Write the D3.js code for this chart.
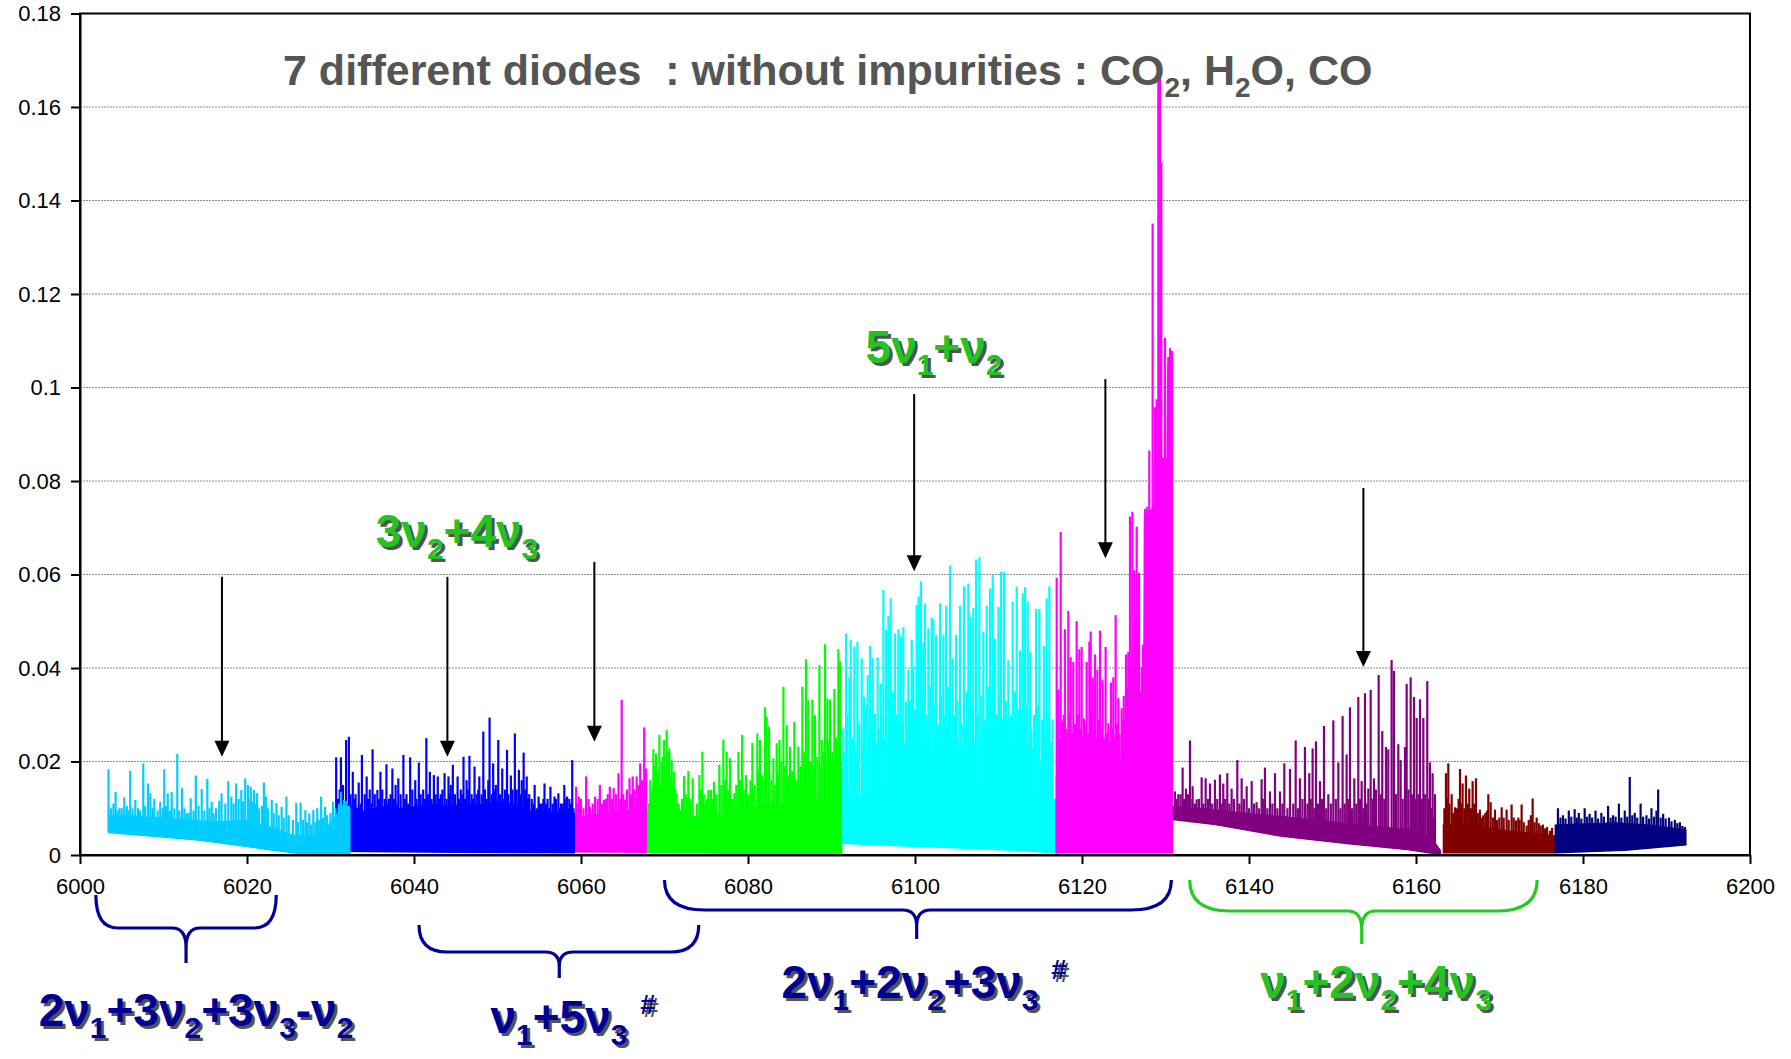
<!DOCTYPE html>
<html><head><meta charset="utf-8">
<script src="https://cdn.jsdelivr.net/npm/d3@7"></script>
<style>body{margin:0;background:#fff}svg{display:block}text{font-family:"Liberation Sans",Arial,sans-serif}</style>
</head><body>
<svg id="chart" width="1791" height="1059"></svg>
<script>
// ---------------- DATA ----------------
const xTicks = [6000,6020,6040,6060,6080,6100,6120,6140,6160,6180,6200];
const xTickLabels = ["6000","6020","6040","6060","6080","6100","6120","6140","6160","6180","6200"];
const yTicks = [0,0.02,0.04,0.06,0.08,0.1,0.12,0.14,0.16,0.18];
const yTickLabels = ["0","0.02","0.04","0.06","0.08","0.1","0.12","0.14","0.16","0.18"];

const segNames = ["diode1","diode2","diode3","diode4","diode5","diode6","diode7","diode8","diode9"];

// light blue diode
const seg1Lower = [[6003.4,0.0048],[6009.5,0.0039],[6014.2,0.0032],[6018.9,0.0021],[6022.7,0.0011],[6026.0,0.0004],[6028.4,0.0001],[6032.5,0.0001]];
const seg1Top = [[6003.4,0.0085],[6006,0.0085],[6010,0.0080],[6013,0.0076],[6016,0.0072],[6020,0.0075],[6023,0.0060],[6025,0.0046],[6027,0.0040],[6029,0.0050],[6030.5,0.0080],[6031.5,0.0110],[6032.4,0.0100]];
const seg1Peaks = [[6003.41,.0183],[6003.7,.010],[6004.0,.011],[6004.26,.0135],[6004.5,.0095],[6004.73,.0100],[6005.0,.010],[6005.30,.0123],[6005.6,.0105],[6005.8,.0095],[6006.01,.0180],[6006.3,.010],[6006.63,.0118],[6006.96,.0100],[6007.2,.0095],[6007.58,.0196],[6007.8,.0105],[6008.14,.0153],[6008.43,.0132],[6008.7,.010],[6008.90,.0120],[6009.3,.0095],[6009.61,.0114],[6009.9,.010],[6010.09,.0183],[6010.3,.0105],[6010.51,.0132],[6010.75,.0095],[6010.98,.0135],[6011.3,.010],[6011.65,.0216],[6011.9,.0095],[6012.22,.0143],[6012.5,.010],[6012.78,.0089],[6013.0,.009],[6013.26,.0121],[6013.6,.0095],[6013.87,.0170],[6014.2,.0105],[6014.58,.0141],[6014.9,.0095],[6015.25,.0163],[6015.5,.010],[6015.77,.0114],[6016.0,.009],[6016.3,.010],[6016.67,.0116],[6016.95,.0132],[6017.4,.011],[6017.76,.0158],[6018.13,.0125],[6018.4,.011],[6018.70,.0153],[6019.0,.012],[6019.32,.0139],[6019.55,.0115],[6019.79,.0164],[6020.12,.0150],[6020.3,.012],[6020.45,.0146],[6020.65,.0115],[6020.83,.0139],[6021.0,.011],[6021.21,.0132],[6021.45,.010],[6021.8,.0105],[6022.02,.0155],[6022.25,.0125],[6022.5,.010],[6022.96,.0118],[6023.2,.009],[6023.53,.0111],[6023.8,.0085],[6024.15,.0103],[6024.4,.008],[6024.72,.0125],[6025.0,.0085],[6025.5,.0075],[6025.90,.0111],[6026.1,.007],[6026.42,.0112],[6026.7,.0075],[6026.99,.0096],[6027.2,.007],[6027.46,.0089],[6027.7,.0065],[6027.94,.0096],[6028.2,.007],[6028.41,.0100],[6028.6,.0075],[6028.88,.0125],[6029.1,.008],[6029.36,.0103],[6029.6,.0085],[6030.0,.009],[6030.30,.0114],[6030.6,.010],[6031.0,.011],[6031.25,.0135],[6031.63,.0118],[6031.9,.0115],[6032.2,.0105]];

// blue diode
const seg2Lower = [[6030.7,0.0008],[6045,0.0006],[6059.3,0.0005]];
const seg2Top = [[6030.7,0.007],[6032,0.011],[6034,0.0095],[6036,0.0105],[6038,0.010],[6040,0.0105],[6042,0.011],[6044,0.0105],[6046,0.011],[6048,0.011],[6050,0.0115],[6052,0.011],[6054,0.0095],[6056,0.009],[6058,0.0095],[6059.3,0.009]];
const seg2Peaks = [[6030.68,.0209],[6030.9,.012],[6031.1,.014],[6031.25,.0209],[6031.5,.015],[6031.87,.0246],[6032.20,.0253],[6032.4,.013],[6032.67,.0178],[6032.9,.012],[6033.0,.013],[6033.38,.0155],[6033.6,.011],[6033.76,.0214],[6034.1,.013],[6034.33,.0168],[6034.5,.012],[6034.7,.014],[6034.9,.011],[6035.04,.0226],[6035.3,.013],[6035.61,.0139],[6035.8,.012],[6035.98,.0178],[6036.2,.014],[6036.5,.012],[6036.70,.0194],[6036.9,.011],[6037.0,.012],[6037.2,.013],[6037.41,.0185],[6037.6,.012],[6037.8,.015],[6038.0,.011],[6038.12,.0164],[6038.4,.013],[6038.73,.0214],[6038.9,.012],[6039.1,.013],[6039.3,.011],[6039.54,.0209],[6039.8,.014],[6040.15,.0160],[6040.3,.012],[6040.58,.0198],[6040.8,.013],[6041.1,.014],[6041.3,.012],[6041.48,.0250],[6041.7,.013],[6041.90,.0178],[6042.1,.012],[6042.38,.0171],[6042.6,.013],[6042.85,.0168],[6043.0,.012],[6043.2,.013],[6043.4,.014],[6043.66,.0175],[6043.9,.012],[6044.13,.0168],[6044.3,.013],[6044.4,.015],[6044.65,.0193],[6044.9,.013],[6045.22,.0168],[6045.4,.012],[6045.6,.014],[6045.8,.013],[6045.93,.0210],[6046.1,.012],[6046.3,.016],[6046.5,.014],[6046.64,.0212],[6046.9,.013],[6047.1,.012],[6047.25,.0189],[6047.5,.013],[6047.7,.014],[6047.82,.0168],[6048.1,.013],[6048.30,.0264],[6048.5,.014],[6048.7,.012],[6048.9,.016],[6049.05,.0294],[6049.3,.013],[6049.48,.0196],[6049.65,.014],[6049.8,.015],[6050.09,.0246],[6050.3,.013],[6050.57,.0185],[6050.75,.012],[6050.9,.014],[6051.14,.0225],[6051.3,.013],[6051.6,.017],[6051.8,.014],[6052.08,.0260],[6052.3,.014],[6052.56,.0182],[6052.7,.013],[6052.9,.016],[6053.13,.0219],[6053.3,.014],[6053.50,.0168],[6053.65,.012],[6053.8,.013],[6054.1,.012],[6054.3,.011],[6054.45,.0150],[6054.7,.010],[6054.92,.0125],[6055.1,.011],[6055.3,.011],[6055.5,.012],[6055.63,.0153],[6055.8,.011],[6056.0,.012],[6056.2,.010],[6056.34,.0146],[6056.6,.011],[6056.82,.0125],[6057.0,.012],[6057.29,.0132],[6057.45,.010],[6057.6,.011],[6057.8,.011],[6058.00,.0150],[6058.2,.012],[6058.33,.0125],[6058.45,.010],[6058.6,.012],[6058.8,.011],[6058.95,.0203],[6059.1,.010]];

// magenta diode (1)
const seg3Lower = [[6059.3,0.0007],[6068.0,0.0006]];
const seg3Top = [[6059.3,0.008],[6061,0.0085],[6063,0.009],[6065,0.0095],[6067,0.010],[6068,0.0095]];
const seg3Peaks = [[6059.42,.0146],[6059.6,.011],[6059.75,.0125],[6060.0,.012],[6060.3,.010],[6060.61,.0168],[6060.9,.012],[6061.08,.0103],[6061.4,.011],[6061.69,.0125],[6062.0,.012],[6062.26,.0150],[6062.5,.011],[6062.74,.0118],[6063.0,.012],[6063.2,.013],[6063.45,.0146],[6063.7,.012],[6063.92,.0143],[6064.2,.013],[6064.49,.0175],[6064.7,.012],[6064.87,.0332],[6065.05,.013],[6065.25,.0118],[6065.5,.014],[6065.81,.0164],[6066.0,.013],[6066.19,.0168],[6066.4,.014],[6066.67,.0168],[6066.9,.015],[6067.09,.0196],[6067.3,.016],[6067.57,.0273],[6067.7,.017],[6067.80,.0185]];

// green diode
const seg4Lower = [[6067.9,0.0006],[6080,0.0003],[6091.3,0.0004]];
const seg4Top = [[6067.9,0.009],[6068.5,0.014],[6070,0.015],[6071,0.013],[6072,0.009],[6074,0.008],[6076,0.0085],[6078,0.009],[6080,0.010],[6082,0.011],[6084,0.011],[6086,0.0115],[6088,0.012],[6090,0.0115],[6091.3,0.011]];
const seg4Peaks = [[6068.07,.0111],[6068.3,.016],[6068.67,.0226],[6068.85,.019],[6068.99,.0217],[6069.2,.018],[6069.39,.0257],[6069.66,.0200],[6069.8,.021],[6069.94,.0246],[6070.1,.019],[6070.26,.0267],[6070.4,.022],[6070.58,.0228],[6070.7,.017],[6070.86,.0203],[6071.0,.015],[6071.14,.0178],[6071.3,.014],[6071.46,.0132],[6071.7,.011],[6071.86,.0096],[6072.1,.012],[6072.34,.0169],[6072.6,.013],[6072.86,.0180],[6073.1,.012],[6073.38,.0164],[6073.66,.0083],[6073.9,.011],[6074.18,.0171],[6074.35,.014],[6074.53,.0221],[6074.7,.013],[6074.85,.0111],[6075.1,.012],[6075.25,.0139],[6075.4,.010],[6075.57,.0139],[6075.75,.012],[6075.93,.0157],[6076.2,.013],[6076.57,.0193],[6076.8,.015],[6077.05,.0247],[6077.25,.016],[6077.45,.0221],[6077.65,.014],[6077.85,.0207],[6078.1,.012],[6078.37,.0132],[6078.6,.015],[6078.85,.0221],[6079.05,.016],[6079.29,.0257],[6079.5,.014],[6079.76,.0171],[6080.0,.013],[6080.3,.016],[6080.52,.0240],[6080.8,.015],[6081.12,.0260],[6081.3,.018],[6081.44,.0246],[6081.7,.017],[6082.04,.0316],[6082.24,.0296],[6082.52,.0275],[6082.8,.016],[6083.04,.0207],[6083.2,.015],[6083.44,.0239],[6083.6,.017],[6083.76,.0246],[6084.0,.020],[6084.24,.0360],[6084.45,.019],[6084.64,.0278],[6084.85,.017],[6085.03,.0232],[6085.3,.018],[6085.55,.0285],[6085.8,.016],[6086.03,.0232],[6086.3,.019],[6086.51,.0360],[6086.75,.022],[6086.95,.0419],[6087.23,.0331],[6087.45,.020],[6087.71,.0332],[6087.9,.018],[6088.03,.0299],[6088.3,.021],[6088.55,.0406],[6088.7,.019],[6088.83,.0246],[6089.05,.022],[6089.23,.0451],[6089.35,.020],[6089.51,.0335],[6089.65,.024],[6089.83,.0332],[6090.1,.022],[6090.34,.0355],[6090.55,.025],[6090.82,.0440],[6091.02,.0414],[6091.15,.020]];

// cyan diode
const seg5Lower = [[6091.2,0.0025],[6098,0.0020],[6104,0.0016],[6110,0.0012],[6114,0.0008],[6117,0.0004]];
const seg5Top = [[6091.2,0.014],[6093,0.013],[6096,0.014],[6099,0.015],[6102,0.016],[6105,0.015],[6108,0.016],[6111,0.015],[6114,0.013],[6117,0.012]];
const seg5Peaks = [[6091.42,.0271],[6091.6,.022],[6091.74,.0474],[6091.9,.030],[6092.14,.0381],[6092.30,.0460],[6092.5,.025],[6092.74,.0446],[6092.9,.022],[6093.10,.0456],[6093.3,.028],[6093.62,.0421],[6093.8,.024],[6093.90,.0339],[6094.1,.032],[6094.33,.0385],[6094.45,.026],[6094.61,.0447],[6094.8,.022],[6094.93,.0421],[6095.0,.026],[6095.21,.0303],[6095.4,.024],[6095.53,.0423],[6095.7,.027],[6095.89,.0367],[6096.0,.030],[6096.21,.0567],[6096.4,.025],[6096.53,.0481],[6096.7,.022],[6096.81,.0511],[6096.95,.028],[6097.09,.0549],[6097.3,.035],[6097.45,.024],[6097.61,.0474],[6097.7,.026],[6097.85,.030],[6098.01,.0483],[6098.15,.025],[6098.33,.0468],[6098.45,.028],[6098.61,.0487],[6098.75,.024],[6098.93,.0328],[6099.05,.027],[6099.21,.0396],[6099.4,.033],[6099.61,.0461],[6099.7,.025],[6099.81,.0403],[6100.0,.031],[6100.1,.024],[6100.20,.0535],[6100.44,.0553],[6100.55,.026],[6100.72,.0585],[6100.8,.023],[6100.9,.035],[6101.00,.0453],[6101.1,.027],[6101.20,.0538],[6101.4,.030],[6101.5,.024],[6101.60,.0485],[6101.8,.036],[6101.9,.026],[6102.00,.0508],[6102.1,.022],[6102.20,.0503],[6102.35,.032],[6102.52,.0471],[6102.65,.025],[6102.8,.028],[6102.9,.023],[6103.00,.0538],[6103.1,.026],[6103.2,.034],[6103.3,.024],[6103.40,.0471],[6103.55,.030],[6103.72,.0533],[6103.85,.027],[6104.0,.036],[6104.1,.022],[6104.20,.0620],[6104.35,.025],[6104.52,.0421],[6104.7,.030],[6104.8,.026],[6104.91,.0471],[6105.1,.033],[6105.25,.024],[6105.39,.0533],[6105.5,.026],[6105.6,.028],[6105.75,.023],[6105.87,.0575],[6106.0,.027],[6106.2,.035],[6106.39,.0580],[6106.55,.025],[6106.67,.0510],[6106.85,.031],[6106.99,.0528],[6107.1,.024],[6107.31,.0632],[6107.4,.023],[6107.5,.030],[6107.71,.0637],[6107.85,.025],[6107.95,.034],[6108.1,.027],[6108.19,.0478],[6108.4,.029],[6108.5,.023],[6108.59,.0533],[6108.8,.036],[6108.9,.025],[6108.99,.0570],[6109.15,.032],[6109.31,.0599],[6109.45,.024],[6109.59,.0463],[6109.7,.026],[6109.8,.030],[6109.99,.0531],[6110.05,.023],[6110.15,.034],[6110.31,.0606],[6110.4,.025],[6110.5,.029],[6110.67,.0606],[6110.8,.024],[6110.9,.033],[6111.05,.026],[6111.18,.0417],[6111.3,.023],[6111.45,.030],[6111.6,.025],[6111.70,.0542],[6111.85,.022],[6111.95,.035],[6112.05,.024],[6112.18,.0574],[6112.3,.026],[6112.4,.031],[6112.5,.022],[6112.58,.0438],[6112.75,.028],[6112.90,.0560],[6113.05,.024],[6113.18,.0573],[6113.35,.032],[6113.50,.0542],[6113.65,.022],[6113.78,.0435],[6113.95,.027],[6114.1,.023],[6114.25,.030],[6114.4,.021],[6114.50,.0526],[6114.6,.024],[6114.7,.032],[6114.90,.0526],[6115.0,.020],[6115.2,.029],[6115.35,.022],[6115.45,.0447],[6115.6,.025],[6115.77,.0549],[6115.85,.020],[6115.95,.030],[6116.09,.0575],[6116.2,.019],[6116.3,.024],[6116.49,.0290]];

// magenta diode (2)
const seg6Lower = [[6116.85,0.0005],[6130.9,0.0005]];
const seg6Top = [[6116.85,0.017],[6119,0.019],[6121,0.020],[6123,0.019],[6124.6,0.020],[6124.8,0.029],[6127.3,0.029],[6127.4,0.072],[6128.7,0.075],[6129.0,0.085],[6130.1,0.085],[6130.2,0.105],[6130.86,0.105]];
const seg6Peaks = [[6116.97,.0593],[6117.17,.0353],[6117.3,.025],[6117.45,.0691],[6117.68,.0287],[6117.8,.030],[6117.96,.0483],[6118.1,.027],[6118.36,.0522],[6118.5,.030],[6118.64,.0423],[6118.8,.026],[6118.96,.0413],[6119.15,.028],[6119.36,.0500],[6119.5,.030],[6119.68,.0440],[6119.8,.027],[6119.96,.0445],[6120.1,.025],[6120.24,.0292],[6120.4,.028],[6120.56,.0413],[6120.7,.026],[6120.88,.0456],[6121.04,.0478],[6121.15,.030],[6121.28,.0380],[6121.4,.027],[6121.56,.0429],[6121.7,.025],[6121.84,.0396],[6122.0,.029],[6122.16,.0480],[6122.3,.027],[6122.47,.0374],[6122.65,.025],[6122.83,.0445],[6123.0,.026],[6123.15,.0282],[6123.3,.024],[6123.47,.0369],[6123.6,.027],[6123.75,.0380],[6123.9,.025],[6124.03,.0513],[6124.2,.028],[6124.35,.0336],[6124.5,.026],[6124.75,.0314],[6125.0,.034],[6125.27,.0429],[6125.4,.036],[6125.55,.0434],[6125.75,.0724],[6125.9,.040],[6126.03,.0734],[6126.15,.045],[6126.27,.0609],[6126.4,.050],[6126.55,.0702],[6126.7,.048],[6126.83,.0604],[6127.0,.035],[6127.15,.0402],[6127.3,.045],[6127.55,.0740],[6127.82,.0745],[6128.06,.0865],[6128.46,.1351],[6128.74,.0958],[6128.94,.0975],[6129.14,.1678],[6129.24,.1650],[6129.34,.1673],[6129.50,.1482],[6129.74,.0827],[6129.94,.1106],[6130.14,.0800],[6130.34,.1065],[6130.54,.1084],[6130.78,.1078]];

// purple diode
const seg7Lower = [[6130.85,0.0076],[6136,0.0065],[6144,0.0040],[6152,0.0024],[6159,0.0012],[6162.5,0.0002],[6163,0.0001]];
const seg7Top = [[6130.85,0.0105],[6135,0.0100],[6140,0.0090],[6145,0.0082],[6150,0.0072],[6155,0.0062],[6160,0.0055],[6162,0.0035],[6163,0.001]];
const seg7Peaks = [[6131.13,.0136],[6131.3,.012],[6131.53,.0130],[6131.8,.013],[6132.05,.0187],[6132.25,.012],[6132.45,.0142],[6132.7,.013],[6132.93,.0245],[6133.0,.012],[6133.25,.0147],[6133.5,.011],[6133.73,.0119],[6134.0,.012],[6134.33,.0166],[6134.55,.011],[6134.81,.0164],[6135.1,.012],[6135.33,.0153],[6135.6,.011],[6135.92,.0161],[6136.2,.012],[6136.52,.0172],[6136.7,.011],[6136.92,.0153],[6137.15,.012],[6137.40,.0175],[6137.65,.011],[6137.92,.0142],[6138.2,.012],[6138.60,.0203],[6138.85,.011],[6139.12,.0164],[6139.4,.012],[6139.72,.0147],[6140.0,.010],[6140.32,.0158],[6140.6,.011],[6140.91,.0113],[6141.2,.010],[6141.51,.0162],[6141.7,.012],[6141.91,.0187],[6142.2,.010],[6142.51,.0136],[6142.8,.011],[6143.11,.0175],[6143.4,.010],[6143.71,.0136],[6144.0,.011],[6144.23,.0196],[6144.6,.010],[6144.91,.0184],[6145.3,.011],[6145.59,.0245],[6145.85,.010],[6146.10,.0164],[6146.4,.012],[6146.70,.0231],[6147.0,.011],[6147.22,.0175],[6147.4,.012],[6147.62,.0228],[6147.85,.010],[6148.02,.0243],[6148.25,.011],[6148.50,.0158],[6148.75,.012],[6148.98,.0276],[6149.25,.010],[6149.50,.0130],[6149.8,.011],[6150.10,.0288],[6150.4,.012],[6150.70,.0198],[6150.95,.010],[6151.21,.0297],[6151.45,.011],[6151.69,.0215],[6151.9,.012],[6152.09,.0316],[6152.35,.010],[6152.61,.0164],[6152.85,.011],[6153.09,.0338],[6153.3,.012],[6153.49,.0158],[6153.7,.010],[6153.89,.0346],[6154.1,.011],[6154.29,.0142],[6154.57,.0353],[6154.8,.012],[6154.97,.0164],[6155.2,.014],[6155.53,.0385],[6155.75,.013],[6155.96,.0265],[6156.2,.012],[6156.40,.0231],[6156.68,.0226],[6157.08,.0417],[6157.36,.0394],[6157.6,.013],[6157.88,.0237],[6158.16,.0203],[6158.4,.012],[6158.68,.0231],[6158.88,.0366],[6159.1,.014],[6159.36,.0380],[6159.55,.013],[6159.76,.0338],[6159.95,.012],[6160.08,.0293],[6160.3,.013],[6160.48,.0333],[6160.7,.012],[6160.88,.0293],[6161.1,.013],[6161.35,.0372],[6161.5,.012],[6161.67,.0198],[6161.85,.010],[6161.99,.0175],[6162.1,.008],[6162.27,.0130]];

// dark red diode
const seg8Lower = [[6163.2,0.0005],[6176.7,0.0005]];
const seg8Top = [[6163.2,0.0065],[6166,0.0068],[6170,0.0055],[6174,0.0048],[6176.7,0.0042]];
const seg8Peaks = [[6163.4,.010],[6163.59,.0175],[6163.7,.012],[6163.87,.0196],[6164.0,.011],[6164.27,.0130],[6164.45,.009],[6164.67,.0102],[6164.9,.010],[6165.1,.012],[6165.27,.0184],[6165.4,.011],[6165.58,.0153],[6165.8,.010],[6165.98,.0170],[6166.2,.011],[6166.38,.0142],[6166.6,.010],[6166.78,.0158],[6166.95,.011],[6167.18,.0164],[6167.4,.009],[6167.66,.0097],[6167.9,.008],[6168.06,.0085],[6168.3,.009],[6168.5,.0095],[6168.66,.0130],[6168.94,.0113],[6169.2,.008],[6169.46,.0097],[6169.7,.0075],[6169.98,.0080],[6170.26,.0102],[6170.5,.008],[6170.85,.0097],[6171.1,.0075],[6171.45,.0108],[6171.7,.008],[6171.97,.0074],[6172.25,.0080],[6172.4,.0075],[6172.65,.0108],[6172.9,.007],[6173.25,.0063],[6173.5,.0075],[6173.75,.0085],[6173.97,.0121],[6174.2,.007],[6174.45,.0080],[6174.7,.0068],[6174.93,.0063],[6175.2,.0065],[6175.45,.0057],[6175.7,.006],[6176.05,.0052],[6176.3,.0058]];

// navy diode
const seg9Lower = [[6176.6,0.0005],[6185,0.0010],[6192.4,0.0022]];
const seg9Top = [[6176.6,0.0065],[6180,0.0068],[6184,0.0070],[6188,0.0065],[6192.4,0.0055]];
const seg9Peaks = [[6177.0,.0100],[6177.3,.0080],[6177.6,.0085],[6177.9,.0078],[6178.3,.0095],[6178.6,.0082],[6179.0,.0098],[6179.25,.0080],[6179.5,.0090],[6179.8,.0078],[6180.2,.0100],[6180.5,.0082],[6180.8,.0088],[6181.1,.0080],[6181.5,.0095],[6181.8,.0078],[6182.2,.0090],[6182.5,.0082],[6183.0,.0105],[6183.3,.0080],[6183.6,.0085],[6183.9,.0082],[6184.3,.0110],[6184.6,.0080],[6185.0,.0095],[6185.3,.0082],[6185.6,.0167],[6185.9,.0085],[6186.2,.0090],[6186.5,.0080],[6186.9,.0110],[6187.2,.0082],[6187.6,.0085],[6187.9,.0078],[6188.2,.0100],[6188.5,.0082],[6188.8,.0095],[6189.0,.0140],[6189.3,.0080],[6189.6,.0088],[6189.9,.0078],[6190.3,.0080],[6190.6,.0072],[6191.0,.0075],[6191.3,.0068],[6191.6,.0070],[6191.9,.0062],[6192.2,.0060]];

// annotations
const arrowX = [6017.0, 6044.0, 6061.6, 6099.9, 6122.8, 6153.7];
const arrowFrom = [0.0595, 0.0595, 0.0627, 0.0986, 0.1018, 0.0785];
const arrowTo = [0.0210, 0.0210, 0.0242, 0.0607, 0.0635, 0.0402];

const braceLeft = [6001.9, 6040.6, 6070.0, 6132.9];
const braceMid = [6012.7, 6057.4, 6100.2, 6153.5];
const braceRight = [6023.5, 6074.1, 6130.7, 6174.5];

const titleParts = [["7 different diodes  : without impurities : CO"],["2","sub"],[", H"],["2","sub"],["O, CO"]];
const bandLabels = [
  [["2ν"],["1","sub"],["+3ν"],["2","sub"],["+3ν"],["3","sub"],["-ν"],["2","sub"]],
  [["ν"],["1","sub"],["+5ν"],["3","sub"],[" "],["#","sup"]],
  [["2ν"],["1","sub"],["+2ν"],["2","sub"],["+3ν"],["3","sub"],[" "],["#","sup"]],
  [["ν"],["1","sub"],["+2ν"],["2","sub"],["+4ν"],["3","sub"]],
  [["3ν"],["2","sub"],["+4ν"],["3","sub"]],
  [["5ν"],["1","sub"],["+ν"],["2","sub"]]
];

// ---------------- DRAWING ----------------
const svg = d3.select("#chart");
const L = 80, R = 1750, T = 13.5, B = 855;
const x = d3.scaleLinear().domain([6000,6200]).range([L,R]);
const y = d3.scaleLinear().domain([0,0.18]).range([B,T]);

const segColors = ["#00CCFF","#0000FF","#FF00FF","#00FF00","#00FFFF","#FF00FF","#800080","#800000","#000080"];
const segs = [
  {l:seg1Lower,t:seg1Top,p:seg1Peaks},{l:seg2Lower,t:seg2Top,p:seg2Peaks},{l:seg3Lower,t:seg3Top,p:seg3Peaks},
  {l:seg4Lower,t:seg4Top,p:seg4Peaks},{l:seg5Lower,t:seg5Top,p:seg5Peaks},{l:seg6Lower,t:seg6Top,p:seg6Peaks},
  {l:seg7Lower,t:seg7Top,p:seg7Peaks},{l:seg8Lower,t:seg8Top,p:seg8Peaks},{l:seg9Lower,t:seg9Top,p:seg9Peaks}
].map((s,i)=>({...s,color:segColors[i],name:segNames[i]}));

function interp(arr, v){
  if (v<=arr[0][0]) return arr[0][1];
  for (let i=1;i<arr.length;i++){
    if (v<=arr[i][0]){const a=arr[i-1],b=arr[i];return a[1]+(b[1]-a[1])*(v-a[0])/(b[0]-a[0]);}
  }
  return arr[arr.length-1][1];
}

// grid
svg.append("g").selectAll("line").data(yTicks.filter(d=>d>0 && d<0.18)).join("line")
  .attr("x1",L).attr("x2",R).attr("y1",d=>y(d)).attr("y2",d=>y(d))
  .attr("stroke","#8a8a8a").attr("stroke-width",1).attr("stroke-dasharray","2,1");

// spectra (draw diode 2 before diode 1)
const order = [1,0,2,3,4,5,6,7,8];
const specG = svg.append("g");
order.forEach(i=>{
  const s = segs[i];
  const g = specG.append("g").attr("class",s.name);
  const area = d3.area().x(d=>x(d[0])).y0(d=>y(interp(s.l,d[0]))).y1(d=>y(d[1]));
  g.append("path").datum(s.t).attr("d",area).attr("fill",s.color);
  g.append("path").datum(s.l).attr("d",d3.line().x(d=>x(d[0])).y(d=>y(d[1]))).attr("fill","none").attr("stroke",s.color).attr("stroke-width",1.5);
  g.selectAll("line").data(s.p).join("line")
    .attr("x1",d=>x(d[0])).attr("x2",d=>x(d[0]))
    .attr("y1",d=>y(interp(s.l,d[0]))).attr("y2",d=>y(d[1]))
    .attr("stroke",s.color).attr("stroke-width",2.2);
});

// frame
svg.append("rect").attr("x",L).attr("y",T).attr("width",R-L).attr("height",B-T)
  .attr("fill","none").attr("stroke","#000").attr("stroke-width",2);

// axes
const yAxis = d3.axisLeft(y).tickValues(yTicks).tickFormat((d,i)=>yTickLabels[i]).tickSize(9).tickSizeOuter(0).tickPadding(10);
const gy = svg.append("g").attr("transform",`translate(${L},0)`).call(yAxis);
const xAxis = d3.axisBottom(x).tickValues(xTicks).tickFormat((d,i)=>xTickLabels[i]).tickSize(9).tickSizeOuter(0).tickPadding(14);
const gx = svg.append("g").attr("transform",`translate(0,${B})`).call(xAxis);
[gx,gy].forEach(g=>{
  g.select(".domain").attr("stroke","#000").attr("stroke-width",2);
  g.selectAll(".tick line").attr("stroke","#000").attr("stroke-width",2);
  g.selectAll(".tick text").attr("font-size",22).attr("fill","#000").attr("font-family","Liberation Sans, Arial, sans-serif");
});

// arrows
const arrG = svg.append("g");
arrowX.forEach((v,i)=>{
  const xp = x(v), y0 = y(arrowFrom[i]), y1 = y(arrowTo[i]);
  arrG.append("line").attr("x1",xp).attr("x2",xp).attr("y1",y0).attr("y2",y1-12).attr("stroke","#000").attr("stroke-width",2);
  arrG.append("path").attr("d",`M${xp-7.5},${y1-16}L${xp+7.5},${y1-16}L${xp},${y1}Z`).attr("fill","#000");
});

// rich text helper
function rich(sel, parts, F){
  let off = 0;
  parts.forEach(([t,kind])=>{
    const target = kind==="sub" ? 0.27*F : kind==="sup" ? -0.42*F : 0;
    const fs = kind==="sub" ? 0.65*F : kind==="sup" ? 0.6*F : F;
    sel.append("tspan").attr("dy",target-off).attr("font-size",fs).text(t);
    off = target;
  });
}

// title
const title = svg.append("text").attr("x",283).attr("y",85).attr("font-size",43).attr("font-weight","bold")
  .attr("fill","#555555").style("white-space","pre");
rich(title, titleParts, 43);

// braces
function bracePath(x1,xm,x2,yTop,yBar,yTip,r){
  const r2 = 14, ym = yBar + (yTip-yBar)*0.55;
  return `M${x1},${yTop} Q${x1},${yBar} ${x1+r},${yBar} L${xm-r2},${yBar} Q${xm},${yBar} ${xm},${ym} L${xm},${yTip}`+
         ` M${x2},${yTop} Q${x2},${yBar} ${x2-r},${yBar} L${xm+r2},${yBar} Q${xm},${yBar} ${xm},${ym}`;
}
const braceTop = [895, 925, 880, 880], braceBar = [928, 952, 910, 911], braceTip = [963, 978, 939, 944], braceR = [22, 28, 40, 40];
const braceColor = ["#000099","#000099","#000099","#22CC22"];
braceLeft.forEach((v,i)=>{
  svg.append("path").attr("d",bracePath(x(v),x(braceMid[i]),x(braceRight[i]),braceTop[i],braceBar[i],braceTip[i],braceR[i]))
    .attr("fill","none").attr("stroke",braceColor[i]).attr("stroke-width",3.2);
});

// band labels
const labelCX = [196, 573, 924, 1376, 457, 934];
const labelBase = [1026, 1033, 998, 998, 547, 363];
const labelColor = ["#000099","#000099","#000099","#22C322","#22C322","#22C322"];
const LF = 46;
bandLabels.forEach((parts,i)=>{
  [["#1a1a1a",3,3],[labelColor[i],0,0]].forEach(([c,dx,dy])=>{
    const t = svg.append("text").attr("x",labelCX[i]+dx).attr("y",labelBase[i]+dy).attr("text-anchor","middle")
      .attr("font-size",LF).attr("font-weight","bold").attr("fill",c).style("white-space","pre")
      .attr("opacity", c==="#1a1a1a"?0.75:1);
    rich(t, parts, LF);
  });
});
</script>
</body></html>
